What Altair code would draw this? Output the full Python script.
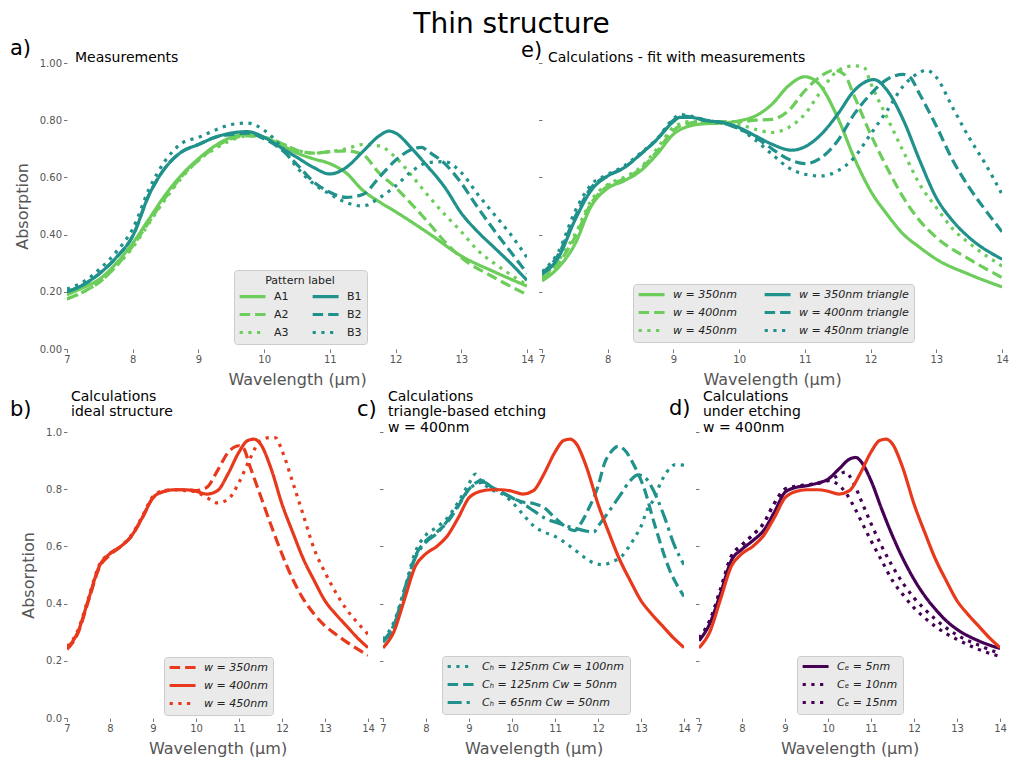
import altair as alt
import pandas as pd

# ---------------- data ----------------
# Panel a) Measurements
a1_x = [7, 7.25, 7.5, 7.75, 8, 8.25, 8.5, 8.75, 9, 9.25, 9.5, 9.75, 10, 10.25, 10.5, 10.75, 11, 11.25, 11.5, 11.75, 12, 12.5, 13, 13.5, 14]
a1_y = [0.19, 0.215, 0.245, 0.30, 0.37, 0.455, 0.54, 0.61, 0.665, 0.71, 0.74, 0.75, 0.74, 0.715, 0.685, 0.665, 0.648, 0.615, 0.555, 0.515, 0.48, 0.405, 0.325, 0.27, 0.22]
a2_x = [7, 7.25, 7.5, 7.75, 8, 8.25, 8.5, 8.75, 9, 9.25, 9.5, 9.75, 10, 10.25, 10.5, 10.75, 11, 11.25, 11.5, 11.75, 12, 12.25, 12.5, 12.75, 13, 13.5, 14]
a2_y = [0.175, 0.2, 0.235, 0.29, 0.36, 0.445, 0.53, 0.605, 0.66, 0.705, 0.735, 0.745, 0.74, 0.72, 0.695, 0.685, 0.69, 0.693, 0.68, 0.615, 0.565, 0.505, 0.442, 0.375, 0.32, 0.25, 0.19]
a3_x = [7, 7.25, 7.5, 7.75, 8, 8.25, 8.5, 8.75, 9, 9.25, 9.5, 9.75, 10, 10.25, 10.5, 10.75, 11, 11.25, 11.5, 11.75, 12, 12.25, 12.5, 12.75, 13, 13.25, 13.5, 13.75, 14]
a3_y = [0.175, 0.2, 0.235, 0.29, 0.355, 0.44, 0.525, 0.6, 0.66, 0.7, 0.73, 0.745, 0.74, 0.72, 0.695, 0.685, 0.69, 0.70, 0.715, 0.71, 0.67, 0.605, 0.535, 0.47, 0.41, 0.345, 0.30, 0.26, 0.225]
b1_x = [7, 7.25, 7.5, 7.75, 8, 8.25, 8.5, 8.75, 9, 9.25, 9.5, 9.75, 10, 10.25, 10.5, 10.75, 11, 11.25, 11.5, 11.75, 11.9, 12, 12.25, 12.5, 12.65, 12.75, 13, 13.25, 13.5, 13.75, 14]
b1_y = [0.20, 0.225, 0.265, 0.32, 0.395, 0.54, 0.635, 0.69, 0.715, 0.74, 0.755, 0.76, 0.74, 0.705, 0.67, 0.635, 0.612, 0.635, 0.69, 0.745, 0.762, 0.755, 0.70, 0.635, 0.595, 0.565, 0.475, 0.41, 0.355, 0.30, 0.24]
b2_x = [7, 7.25, 7.5, 7.75, 8, 8.25, 8.5, 8.75, 9, 9.25, 9.5, 9.75, 10, 10.25, 10.5, 10.75, 11, 11.25, 11.5, 11.75, 12, 12.25, 12.4, 12.5, 12.75, 13, 13.25, 13.5, 13.75, 14]
b2_y = [0.20, 0.225, 0.265, 0.32, 0.395, 0.54, 0.635, 0.69, 0.715, 0.74, 0.75, 0.755, 0.735, 0.70, 0.645, 0.585, 0.548, 0.53, 0.54, 0.60, 0.66, 0.698, 0.705, 0.69, 0.648, 0.58, 0.495, 0.415, 0.34, 0.265]
b3_x = [7, 7.25, 7.5, 7.75, 8, 8.25, 8.5, 8.75, 9, 9.25, 9.5, 9.75, 10, 10.25, 10.5, 10.75, 11, 11.25, 11.5, 11.75, 12, 12.25, 12.5, 12.75, 13, 13.25, 13.5, 13.75, 14]
b3_y = [0.21, 0.235, 0.28, 0.34, 0.42, 0.56, 0.66, 0.72, 0.74, 0.765, 0.785, 0.79, 0.765, 0.71, 0.635, 0.578, 0.542, 0.512, 0.50, 0.528, 0.57, 0.622, 0.652, 0.655, 0.617, 0.541, 0.471, 0.401, 0.32]

# Panel e) Calculations - fit with measurements
e350_x = [7, 7.25, 7.5, 7.75, 8, 8.25, 8.5, 8.75, 9, 9.25, 9.5, 9.75, 10, 10.25, 10.5, 10.75, 11, 11.2, 11.5, 11.75, 12, 12.25, 12.5, 12.75, 13, 13.5, 14]
e350_y = [0.238, 0.285, 0.366, 0.50, 0.562, 0.588, 0.623, 0.681, 0.751, 0.78, 0.788, 0.79, 0.798, 0.815, 0.856, 0.92, 0.952, 0.93, 0.809, 0.669, 0.553, 0.471, 0.401, 0.355, 0.314, 0.261, 0.217]
e400_x = [7, 7.25, 7.5, 7.75, 8, 8.25, 8.5, 8.75, 9, 9.25, 9.5, 9.75, 10, 10.25, 10.5, 10.75, 11, 11.25, 11.45, 11.6, 11.75, 12, 12.25, 12.5, 12.75, 13, 13.5, 14]
e400_y = [0.245, 0.30, 0.39, 0.51, 0.57, 0.595, 0.63, 0.69, 0.765, 0.79, 0.795, 0.795, 0.795, 0.80, 0.803, 0.833, 0.903, 0.955, 0.975, 0.96, 0.885, 0.751, 0.634, 0.529, 0.448, 0.39, 0.314, 0.25]
e450_x = [7, 7.25, 7.5, 7.75, 8, 8.25, 8.5, 8.75, 9, 9.25, 9.5, 9.75, 10, 10.25, 10.5, 10.75, 11, 11.25, 11.5, 11.75, 11.9, 12, 12.25, 12.5, 12.75, 13, 13.25, 13.5, 14]
e450_y = [0.25, 0.31, 0.40, 0.52, 0.575, 0.60, 0.635, 0.70, 0.775, 0.795, 0.795, 0.79, 0.785, 0.768, 0.757, 0.774, 0.821, 0.903, 0.973, 0.99, 0.985, 0.93, 0.81, 0.69, 0.575, 0.495, 0.42, 0.37, 0.29]
e350t_x = [7, 7.25, 7.5, 7.75, 8, 8.25, 8.5, 8.75, 9, 9.1, 9.25, 9.5, 9.75, 10, 10.25, 10.5, 10.8, 11, 11.25, 11.5, 11.75, 12.05, 12.25, 12.5, 12.75, 13, 13.25, 13.5, 14]
e350t_y = [0.261, 0.32, 0.45, 0.555, 0.605, 0.634, 0.681, 0.733, 0.795, 0.81, 0.81, 0.798, 0.792, 0.774, 0.745, 0.716, 0.695, 0.707, 0.751, 0.821, 0.903, 0.942, 0.905, 0.80, 0.658, 0.529, 0.448, 0.39, 0.314]
e400t_x = [7, 7.25, 7.5, 7.75, 8, 8.25, 8.5, 8.75, 9, 9.1, 9.25, 9.5, 9.75, 10, 10.25, 10.5, 10.75, 11, 11.25, 11.5, 11.75, 12, 12.25, 12.5, 12.6, 12.75, 13, 13.25, 13.5, 13.75, 14]
e400t_y = [0.265, 0.33, 0.46, 0.565, 0.605, 0.634, 0.681, 0.733, 0.80, 0.815, 0.812, 0.80, 0.79, 0.77, 0.74, 0.70, 0.664, 0.648, 0.669, 0.728, 0.821, 0.891, 0.943, 0.96, 0.95, 0.89, 0.78, 0.66, 0.565, 0.485, 0.41]
e450t_x = [7, 7.25, 7.5, 7.75, 8, 8.25, 8.5, 8.75, 9, 9.1, 9.25, 9.5, 9.75, 10, 10.25, 10.5, 10.75, 11, 11.25, 11.5, 11.75, 12, 12.25, 12.5, 12.75, 12.85, 13, 13.25, 13.5, 13.75, 14]
e450t_y = [0.27, 0.34, 0.48, 0.575, 0.61, 0.64, 0.685, 0.735, 0.805, 0.82, 0.815, 0.80, 0.79, 0.77, 0.73, 0.681, 0.634, 0.611, 0.605, 0.623, 0.669, 0.751, 0.833, 0.92, 0.967, 0.975, 0.95, 0.844, 0.739, 0.646, 0.541]

# Panel b) Calculations, ideal structure
w350_x = [7, 7.25, 7.5, 7.75, 8, 8.25, 8.5, 8.75, 9, 9.25, 9.5, 9.75, 10, 10.25, 10.5, 10.75, 11, 11.1, 11.25, 11.5, 11.75, 12, 12.25, 12.5, 12.75, 13, 13.25, 13.5, 14]
w350_y = [0.24, 0.295, 0.41, 0.525, 0.57, 0.60, 0.635, 0.70, 0.77, 0.792, 0.798, 0.798, 0.795, 0.806, 0.865, 0.929, 0.952, 0.945, 0.882, 0.777, 0.672, 0.573, 0.485, 0.415, 0.363, 0.322, 0.293, 0.266, 0.219]
w400_x = [7, 7.25, 7.5, 7.75, 8, 8.25, 8.5, 8.75, 9, 9.25, 9.5, 9.75, 10, 10.25, 10.5, 10.75, 11, 11.2, 11.35, 11.5, 11.75, 12, 12.25, 12.5, 12.75, 13, 13.25, 13.5, 13.75, 14]
w400_y = [0.245, 0.30, 0.415, 0.53, 0.575, 0.60, 0.637, 0.70, 0.77, 0.792, 0.798, 0.798, 0.793, 0.783, 0.795, 0.855, 0.93, 0.97, 0.975, 0.958, 0.87, 0.748, 0.649, 0.555, 0.48, 0.41, 0.363, 0.322, 0.281, 0.246]
w450_x = [7, 7.25, 7.5, 7.75, 8, 8.25, 8.5, 8.75, 9, 9.25, 9.5, 9.75, 10, 10.25, 10.5, 10.75, 11, 11.25, 11.5, 11.75, 11.85, 12, 12.25, 12.5, 12.75, 13, 13.25, 13.5, 13.75, 14]
w450_y = [0.25, 0.305, 0.42, 0.535, 0.575, 0.60, 0.64, 0.705, 0.775, 0.795, 0.798, 0.795, 0.79, 0.771, 0.752, 0.765, 0.824, 0.905, 0.97, 0.981, 0.98, 0.935, 0.824, 0.707, 0.59, 0.509, 0.439, 0.38, 0.334, 0.293]

# Panel c) Calculations, triangle-based etching, w = 400nm
c1_x = [7, 7.25, 7.5, 7.75, 8, 8.25, 8.5, 8.75, 9, 9.15, 9.25, 9.5, 9.75, 10, 10.25, 10.5, 10.75, 11, 11.3, 11.5, 11.7, 11.9, 12.12, 12.35, 12.55, 12.7, 12.85, 13, 13.15, 13.3, 13.45, 13.6, 13.8, 14]
c1_y = [0.275, 0.334, 0.45, 0.58, 0.64, 0.667, 0.70, 0.755, 0.82, 0.853, 0.835, 0.80, 0.785, 0.755, 0.713, 0.672, 0.65, 0.635, 0.606, 0.583, 0.56, 0.542, 0.536, 0.548, 0.565, 0.595, 0.63, 0.67, 0.73, 0.765, 0.82, 0.86, 0.886, 0.884]
c2_x = [7, 7.25, 7.5, 7.75, 8, 8.25, 8.5, 8.75, 9, 9.3, 9.5, 9.75, 10, 10.25, 10.5, 10.75, 11, 11.25, 11.45, 11.6, 11.77, 12, 12.15, 12.3, 12.47, 12.6, 12.85, 13.08, 13.31, 13.66, 14]
c2_y = [0.27, 0.325, 0.44, 0.565, 0.62, 0.65, 0.685, 0.74, 0.80, 0.83, 0.81, 0.79, 0.77, 0.755, 0.75, 0.735, 0.70, 0.668, 0.655, 0.68, 0.728, 0.81, 0.89, 0.93, 0.95, 0.94, 0.88, 0.80, 0.68, 0.52, 0.425]
c3_x = [7, 7.25, 7.5, 7.75, 8, 8.25, 8.5, 8.75, 9, 9.35, 9.5, 9.75, 10, 10.25, 10.5, 10.75, 11, 11.25, 11.5, 11.75, 11.9, 12, 12.23, 12.52, 12.75, 12.93, 13.1, 13.24, 13.54, 13.77, 14]
c3_y = [0.265, 0.32, 0.45, 0.56, 0.615, 0.645, 0.69, 0.745, 0.80, 0.825, 0.81, 0.79, 0.77, 0.75, 0.725, 0.70, 0.685, 0.672, 0.662, 0.653, 0.65, 0.67, 0.717, 0.78, 0.83, 0.85, 0.84, 0.81, 0.705, 0.606, 0.536]

# Panel d) Calculations, under etching, w = 400nm
d5_x = [7, 7.25, 7.5, 7.75, 8, 8.25, 8.5, 8.75, 9, 9.25, 9.5, 9.75, 10, 10.25, 10.5, 10.65, 10.75, 11, 11.25, 11.5, 11.75, 12, 12.25, 12.5, 12.75, 13, 13.5, 14]
d5_y = [0.27, 0.33, 0.435, 0.55, 0.59, 0.62, 0.655, 0.719, 0.789, 0.806, 0.812, 0.821, 0.835, 0.87, 0.905, 0.911, 0.90, 0.83, 0.73, 0.637, 0.555, 0.485, 0.427, 0.38, 0.34, 0.31, 0.27, 0.243]
d10_x = [7, 7.25, 7.5, 7.75, 8, 8.25, 8.5, 8.75, 9, 9.25, 9.5, 9.75, 10, 10.2, 10.4, 10.6, 10.8, 11, 11.25, 11.5, 11.75, 12, 12.25, 12.5, 12.75, 13, 13.5, 14]
d10_y = [0.28, 0.34, 0.45, 0.565, 0.605, 0.64, 0.68, 0.75, 0.80, 0.81, 0.815, 0.82, 0.83, 0.845, 0.86, 0.82, 0.75, 0.68, 0.60, 0.53, 0.47, 0.42, 0.38, 0.345, 0.315, 0.29, 0.255, 0.225]
d15_x = [7, 7.25, 7.5, 7.75, 8, 8.25, 8.5, 8.75, 9, 9.25, 9.5, 9.75, 10, 10.2, 10.4, 10.6, 10.8, 11, 11.25, 11.5, 11.75, 12, 12.25, 12.5, 12.75, 13, 13.5, 14]
d15_y = [0.28, 0.34, 0.45, 0.565, 0.605, 0.64, 0.68, 0.75, 0.80, 0.81, 0.815, 0.82, 0.83, 0.82, 0.79, 0.74, 0.68, 0.62, 0.55, 0.48, 0.43, 0.385, 0.35, 0.32, 0.295, 0.275, 0.24, 0.215]

x_ticks = [7, 8, 9, 10, 11, 12, 13, 14]
y_ticks = [0, 0.2, 0.4, 0.6, 0.8, 1.0]

labels_a = ["A1", "A2", "A3", "B1", "B2", "B3"]
labels_e = ["w = 350nm", "w = 400nm", "w = 450nm",
            "w = 350nm triangle", "w = 400nm triangle", "w = 450nm triangle"]
labels_b = ["w = 350nm", "w = 400nm", "w = 450nm"]
labels_c = ["Cₕ = 125nm Cw = 100nm", "Cₕ = 125nm Cw = 50nm", "Cₕ = 65nm Cw = 50nm"]
labels_d = ["Cₑ = 5nm", "Cₑ = 10nm", "Cₑ = 15nm"]

# ---------------- styles ----------------
GREEN, TEAL, PURPLE, RED = "#6ccd5a", "#21918c", "#440154", "#e8391d"
SOLID, DASH, DOT, DASHDOT = [1, 0], [10.5, 5], [3.2, 5.5], [14, 5, 3.2, 5]
FONT = "DejaVu Sans"
LW = 3.2


def long_df(series):
    rows = []
    for name, xs, ys in series:
        for i, (xv, yv) in enumerate(zip(xs, ys)):
            rows.append({"s": name, "x": xv, "y": yv, "i": i})
    return pd.DataFrame(rows)


def text_layer(s, x, y, size, align="left"):
    return alt.Chart(pd.DataFrame({"t": [s]})).mark_text(
        x=x, y=y, fontSize=size, font=FONT, align=align,
        baseline="alphabetic", color="black").encode(text="t:N")


def panel(series, domain, colors, dashes, width, height, legend, yfmt,
          ylabels, ytitle, texts, extra=None):
    df = long_df(series)
    xenc = alt.X("x:Q", scale=alt.Scale(domain=[7, 14], nice=False, zero=False),
                 axis=alt.Axis(values=x_ticks, format="d", title="Wavelength (µm)"))
    yenc = alt.Y("y:Q", scale=alt.Scale(domain=[0, 1], nice=False),
                 axis=alt.Axis(values=y_ticks, format=yfmt, labels=ylabels, title=ytitle))
    lines = alt.Chart(df).mark_line(strokeWidth=LW, interpolate="monotone", clip=True).encode(
        x=xenc, y=yenc,
        color=alt.Color("s:N", scale=alt.Scale(domain=domain, range=colors), legend=legend),
        strokeDash=alt.StrokeDash("s:N", scale=alt.Scale(domain=domain, range=dashes), legend=legend),
        order="i:Q",
    )
    layers = [lines]
    if extra is not None:
        edf = long_df([extra])
        layers.append(
            alt.Chart(edf).mark_line(strokeWidth=LW, interpolate="monotone", clip=True, color=RED)
            .encode(x=alt.X("x:Q"), y=alt.Y("y:Q"), order="i:Q")
        )
    layers += texts
    return alt.layer(*layers).properties(width=width, height=height)


def make_legend(x, y, cols=1, title=None, italic=True, colpad=10):
    kw = dict(orient="none", legendX=x, legendY=y, columns=cols,
              symbolType="M-1.5,0H6.5", symbolSize=42, symbolStrokeWidth=LW,
              labelFont=FONT, labelFontSize=11, labelColor="#222222",
              labelOffset=24, columnPadding=colpad, rowPadding=5,
              fillColor="rgba(229,229,229,0.8)", strokeColor="#cccccc",
              cornerRadius=3, padding=5)
    if italic:
        kw["labelFontStyle"] = "italic"
    if title:
        kw.update(title=title, titleFont=FONT, titleFontSize=11, titleFontWeight="normal",
                  titleColor="#222222", titleAnchor="middle", titlePadding=5)
    else:
        kw["title"] = None
    return alt.Legend(**kw)


W_A, W_E, W_BOT, H = 460, 460, 301, 286

pa = panel(
    [("A1", a1_x, a1_y), ("A2", a2_x, a2_y), ("A3", a3_x, a3_y),
     ("B1", b1_x, b1_y), ("B2", b2_x, b2_y), ("B3", b3_x, b3_y)],
    labels_a, [GREEN, GREEN, GREEN, TEAL, TEAL, TEAL],
    [SOLID, DASH, DOT, SOLID, DASH, DOT], W_A, H,
    make_legend(167, 207, cols=2, title="Pattern label", italic=False, colpad=17), ".2f", True, "Absorption",
    [text_layer("a)", -57, -8, 21), text_layer("Measurements", 8, -1, 14)])

pe = panel(
    [(labels_e[0], e350_x, e350_y), (labels_e[1], e400_x, e400_y), (labels_e[2], e450_x, e450_y),
     (labels_e[3], e350t_x, e350t_y), (labels_e[4], e400t_x, e400t_y), (labels_e[5], e450t_x, e450t_y)],
    labels_e, [GREEN, GREEN, GREEN, TEAL, TEAL, TEAL],
    [SOLID, DASH, DOT, SOLID, DASH, DOT], W_E, H,
    make_legend(91, 221, cols=2, colpad=21), ".2f", False, None,
    [text_layer("e)", -21, -6.5, 21), text_layer("Calculations - fit with measurements", 6, -1, 14),
     text_layer("Thin structure", -30.5, -30.3, 28, align="center")])

pb = panel(
    [(labels_b[0], w350_x, w350_y), (labels_b[1], w400_x, w400_y), (labels_b[2], w450_x, w450_y)],
    labels_b, [RED, RED, RED], [DASH, SOLID, DOT], W_BOT, H,
    make_legend(97, 225), ".1f", True, "Absorption",
    [text_layer("b)", -57, -16, 21), text_layer("Calculations", 4, -31, 14),
     text_layer("ideal structure", 4, -15.7, 14)])

pc = panel(
    [(labels_c[0], c1_x, c1_y), (labels_c[1], c2_x, c2_y), (labels_c[2], c3_x, c3_y)],
    labels_c, [TEAL, TEAL, TEAL], [DOT, DASH, DASHDOT], W_BOT, H,
    make_legend(59, 224), ".1f", False, None,
    [text_layer("c)", -26, -16, 21), text_layer("Calculations", 5, -31, 14),
     text_layer("triangle-based etching", 5, -15.7, 14), text_layer("w = 400nm", 5, -0.4, 14)],
    extra=("w400", w400_x, w400_y))

pd_ = panel(
    [(labels_d[0], d5_x, d5_y), (labels_d[1], d10_x, d10_y), (labels_d[2], d15_x, d15_y)],
    labels_d, [PURPLE, PURPLE, PURPLE], [SOLID, DOT, DOT], W_BOT, H,
    make_legend(98, 224), ".1f", False, None,
    [text_layer("d)", -30, -17, 21), text_layer("Calculations", 4, -31, 14),
     text_layer("under etching", 4, -15.7, 14), text_layer("w = 400nm", 4, -0.4, 14)],
    extra=("w400", w400_x, w400_y))

top = alt.hconcat(pa, pe, spacing=15, bounds="flush").resolve_scale(
    color="independent", strokeDash="independent").resolve_legend(color="independent", strokeDash="independent")
bottom = alt.hconcat(pb, pc, pd_, spacing=15, bounds="flush").resolve_scale(
    color="independent", strokeDash="independent").resolve_legend(color="independent", strokeDash="independent")

chart = (
    alt.vconcat(top, bottom, spacing=2)
    .resolve_scale(color="independent", strokeDash="independent")
    .resolve_legend(color="independent", strokeDash="independent")
    .properties(padding={"left": 2, "top": 2, "right": 0, "bottom": 0}, background="white")
    .configure_view(fill="#E5E5E5", stroke=None)
    .configure_axis(domain=False, grid=True, gridColor="white", gridWidth=1.2,
                    tickColor="#555555", tickSize=3.5, tickWidth=0.8,
                    labelColor="#555555", labelFont=FONT, labelFontSize=10, labelPadding=2,
                    labelFlush=False, labelOverlap=False,
                    titleColor="#555555", titleFont=FONT, titleFontSize=16,
                    titleFontWeight="normal", titlePadding=7)
    .configure_axisY(titlePadding=9)
)

chart.save("out.html", embed_options={"renderer": "svg", "actions": False})
